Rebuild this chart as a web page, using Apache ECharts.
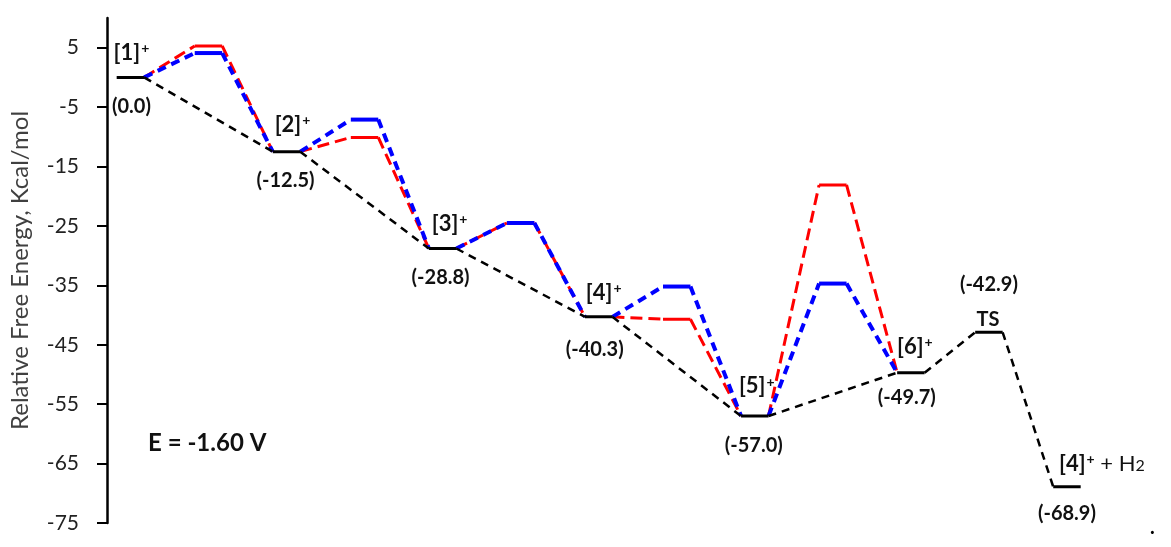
<!DOCTYPE html>
<html>
<head>
<meta charset="utf-8">
<script src="https://cdn.jsdelivr.net/npm/echarts@6/dist/echarts.min.js"></script>
<style>
  html, body { margin: 0; background: #fff; }
  #chart { width: 1171px; height: 547px; }
</style>
</head>
<body>
<div id="chart"></div>
<script>
// intermediates [1]+ ... [6]+, relative free energy in kcal/mol
const stageNames = ['1', '2', '3', '4', '5', '6'];
const stageEnergy = [0.0, -12.5, -28.8, -40.3, -57.0, -49.7];
// barrier tops between consecutive intermediates (red / blue pathways)
const redBarrier = [5.3, -10.1, -24.5, -40.7, -18.1];
const blueBarrier = [4.1, -7.1, -24.5, -35.2, -34.7];
// H2 release from [6]+
const tsEnergy = -42.9;
const productEnergy = -68.9;
const yTicks = [5, -5, -15, -25, -35, -45, -55, -65, -75];

const FONT = 'Lato';
const HALF = 0.088; // half width of a level bar, in stage units

const series = [];
function path(pts, color, width, dash, z) {
    series.push({
        type: 'line',
        data: pts,
        symbol: 'none',
        silent: true,
        animation: false,
        z: z,
        lineStyle: { color: color, width: width, type: dash, cap: 'butt', join: 'miter' }
    });
}

// red and blue pathways (blue drawn over red)
[[redBarrier, '#ff0000', 3, [12, 6], 2], [blueBarrier, '#0000ff', 4, [9, 6], 3]].forEach(function (p) {
    const bar = p[0], c = p[1], w = p[2], d = p[3], z = p[4];
    bar.forEach(function (b, i) {
        const m = i + 0.5;
        path([[i + HALF, stageEnergy[i]], [m - HALF, b]], c, w, d, z);
        path([[m - HALF, b], [m + HALF, b]], c, w, 'solid', z);
        path([[m + HALF, b], [i + 1 - HALF, stageEnergy[i + 1]]], c, w, d, z);
    });
});

// black direct pathway
const blackDash = [8, 6];
stageEnergy.forEach(function (e, i) {
    path([[i - HALF, e], [i + HALF, e]], '#000', 3, 'solid', 6);
    if (i < stageEnergy.length - 1) {
        path([[i + HALF, e], [i + 1 - HALF, stageEnergy[i + 1]]], '#000', 2.5, blackDash, 5);
    }
});
path([[5 + HALF, stageEnergy[5]], [5.5 - HALF, tsEnergy]], '#000', 2.5, blackDash, 5);
path([[5.5 - HALF, tsEnergy], [5.5 + HALF, tsEnergy]], '#000', 3, 'solid', 6);
path([[5.5 + HALF, tsEnergy], [6 - HALF, productEnergy]], '#000', 2.5, blackDash, 5);
path([[6 - HALF, productEnergy], [6 + HALF, productEnergy]], '#000', 3, 'solid', 6);

const TXT = '#111';
const rich = {
    b: { fontFamily: FONT, fontSize: 22, fontWeight: 'bold', color: TXT },
    s: { fontFamily: FONT, fontSize: 14, fontWeight: 'bold', color: TXT, verticalAlign: 'top', padding: [0, 0, 8, 1] },
    n: { fontFamily: FONT, fontSize: 22, fontWeight: 'normal', color: TXT },
    sub: { fontFamily: FONT, fontSize: 16, fontWeight: 'normal', color: TXT, padding: [4, 0, 0, 0] }
};
function labelPoint(x, y, text, offset) {
    return {
        value: [x, y],
        label: {
            show: true, position: 'inside', offset: offset, formatter: text,
            fontFamily: FONT, fontSize: 20, fontWeight: 'bold', color: TXT,
            textBorderWidth: 0, rich: rich
        }
    };
}
const nameOffsets = [[1, -25], [6, -27], [7, -25], [5, -24], [2, -30], [4, -26]];
const valueOffsets = [[1, 29], [-1, 29], [-2, 29], [-4, 33], [-1, 29], [-4, 25]];
const labelData = [];
stageEnergy.forEach(function (e, i) {
    labelData.push(labelPoint(i, e, '{b|[' + stageNames[i] + ']}{s|+}', nameOffsets[i]));
    labelData.push(labelPoint(i, e, '(' + e.toFixed(1) + ')', valueOffsets[i]));
});
labelData.push(labelPoint(5.5, tsEnergy, 'TS', [-1, -13]));
labelData.push(labelPoint(5.5, tsEnergy, '(' + tsEnergy.toFixed(1) + ')', [0, -48]));
labelData.push(labelPoint(6, productEnergy, '{b|[4]}{s|+}{n| + H}{sub|2}', [35, -23]));
labelData.push(labelPoint(6, productEnergy, '(' + productEnergy.toFixed(1) + ')', [0, 27]));
series.push({
    type: 'scatter', data: labelData, symbolSize: 1, silent: true, animation: false, z: 10,
    itemStyle: { color: 'transparent', opacity: 1 }
});

const chart = echarts.init(document.getElementById('chart'));
chart.setOption({
    backgroundColor: '#fff',
    animation: false,
    grid: { left: 105, top: 18, width: 1040, height: 505 },
    xAxis: { type: 'value', min: -0.15, max: 6.5, show: false },
    yAxis: {
        type: 'value', min: -75, max: 10, interval: 10,
        name: 'Relative Free Energy, Kcal/mol', nameLocation: 'middle', nameGap: 75,
        nameTextStyle: { fontFamily: FONT, fontSize: 24, color: '#404040' },
        axisLine: { show: true, onZero: false, lineStyle: { color: '#000', width: 2.5 } },
        axisTick: { show: true, length: 10, customValues: yTicks, lineStyle: { color: '#000', width: 2 } },
        axisLabel: { customValues: yTicks, margin: 28, fontFamily: FONT, fontSize: 21, color: '#222' },
        splitLine: { show: false }
    },
    graphic: [
        { type: 'text', left: 148, top: 431, style: { text: 'E = -1.60 V', font: 'bold 24px Lato', fill: TXT } },
        { type: 'text', left: 1150, top: 518, style: { text: '.', font: 'bold 20px Lato', fill: '#000' } }
    ],
    series: series
});
</script>
</body>
</html>
